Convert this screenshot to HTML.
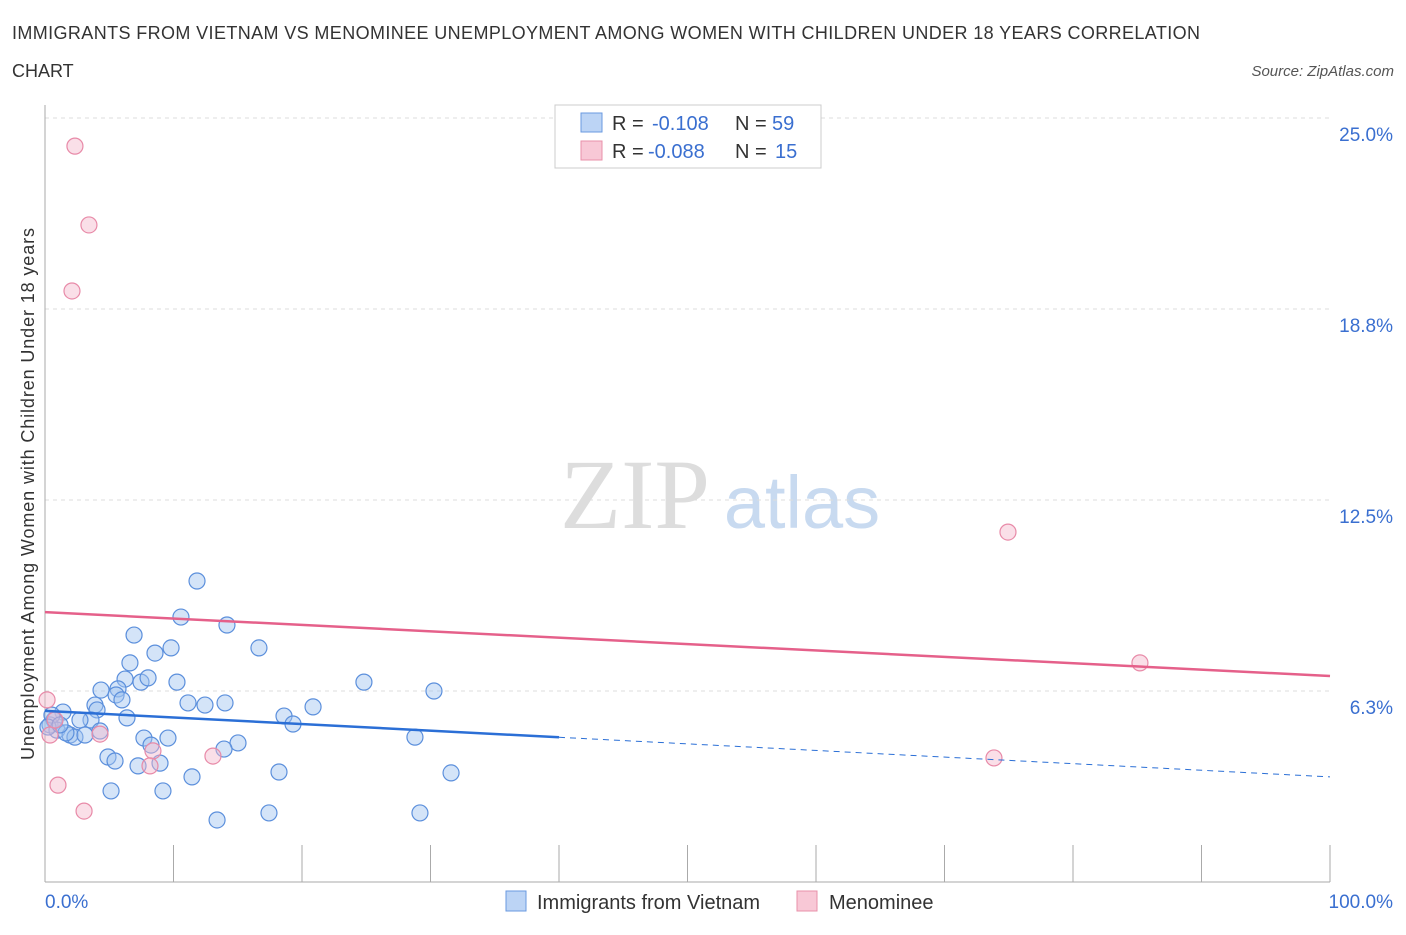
<!DOCTYPE html>
<html><head><meta charset="utf-8"><style>
body{margin:0;background:#fff;font-family:"Liberation Sans",sans-serif;}
</style></head><body>
<svg width="1406" height="930" xmlns="http://www.w3.org/2000/svg" id="svg">
<text x="12" y="39" font-size="18" textLength="1188" fill="#333">IMMIGRANTS FROM VIETNAM VS MENOMINEE UNEMPLOYMENT AMONG WOMEN WITH CHILDREN UNDER 18 YEARS CORRELATION</text>
<text x="12" y="77" font-size="18" fill="#333">CHART</text>
<text x="1394" y="76" font-size="15" fill="#555" font-style="italic" text-anchor="end">Source: ZipAtlas.com</text>
<text x="635" y="528" font-size="100" fill="#ddd" font-family="Liberation Serif,serif" text-anchor="middle">ZIP</text>
<text x="802" y="528" font-size="74" fill="#c8daf0" text-anchor="middle">atlas</text>
<g id="grid"></g>
<line x1="45" y1="105" x2="45" y2="882" stroke="#aaa"/>
<line x1="45" y1="882" x2="1330" y2="882" stroke="#aaa"/>
<g id="marks"></g>
<text transform="translate(34,494) rotate(-90)" font-size="18" textLength="532" fill="#333" text-anchor="middle">Unemployment Among Women with Children Under 18 years</text>
<text x="45" y="908" font-size="19" fill="#3a6fd0">0.0%</text>
<text x="1393" y="908" font-size="19" fill="#3a6fd0" text-anchor="end">100.0%</text>
<g>
<rect x="555" y="105" width="266" height="63" fill="#fff" stroke="#ccc"/>
<rect x="581" y="113" width="21" height="19" fill="#bcd4f5" stroke="#6a9ae0"/>
<text x="612" y="130" font-size="20" fill="#333">R =</text>
<text x="652" y="130" font-size="20" fill="#3a6fd0">-0.108</text>
<text x="735" y="130" font-size="20" fill="#333">N =</text>
<text x="772" y="130" font-size="20" fill="#3a6fd0">59</text>
<rect x="581" y="141" width="21" height="19" fill="#f8c8d6" stroke="#e890aa"/>
<text x="612" y="158" font-size="20" fill="#333">R =</text>
<text x="648" y="158" font-size="20" fill="#3a6fd0">-0.088</text>
<text x="735" y="158" font-size="20" fill="#333">N =</text>
<text x="775" y="158" font-size="20" fill="#3a6fd0">15</text>
</g>
<g>
<rect x="506" y="891" width="20" height="20" fill="#bcd4f5" stroke="#6a9ae0"/>
<text x="537" y="909" font-size="20" fill="#333">Immigrants from Vietnam</text>
<rect x="797" y="891" width="20" height="20" fill="#f8c8d6" stroke="#e890aa"/>
<text x="829" y="909" font-size="20" fill="#333">Menominee</text>
</g>
</svg>
<script>
const yTicks=[6.25,12.5,18.75,25];
const yTickLabels=["6.3%","12.5%","18.8%","25.0%"];
const blueX=[11.83,10.58,14.16,6.93,9.81,8.56,6.61,16.65,7.47,8.02,10.27,6.23,5.68,4.36,5.53,24.82,30.27,11.13,12.45,14.01,3.89,5.99,4.05,6.38,20.86,18.6,19.3,3.58,2.72,1.40,0.70,0.39,0.93,1.95,2.33,3.11,1.63,0.54,7.70,9.57,8.25,15.02,13.93,28.79,4.90,5.45,7.24,8.95,18.21,31.6,11.44,5.14,9.18,13.39,17.43,29.18,0.23,1.17,4.28];
const blueY=[9.85,8.67,8.41,8.08,7.66,7.49,7.17,7.66,6.54,6.68,6.54,6.64,6.32,6.28,6.12,6.54,6.25,5.86,5.79,5.86,5.79,5.96,5.63,5.37,5.73,5.43,5.17,5.30,5.30,5.56,5.30,5.14,4.97,4.81,4.74,4.81,4.88,5.46,4.71,4.71,4.48,4.55,4.35,4.74,4.09,3.96,3.80,3.89,3.60,3.57,3.44,2.98,2.98,2.03,2.26,2.26,5.07,5.14,4.94];
const pinkX=[2.33,3.42,2.10,74.94,85.21,0.16,0.39,4.28,13.07,8.40,8.17,73.85,1.01,3.04,0.78];
const pinkY=[24.08,21.5,19.34,11.45,7.17,5.96,4.81,4.84,4.12,4.29,3.80,4.06,3.17,2.32,5.30];
const blueTrend=[5.6,3.44];
const pinkTrend=[8.83,6.74];
const xs=v=>45+v*12.85, ys=v=>882-v*30.56;
const NS="http://www.w3.org/2000/svg";
const grid=document.getElementById('grid'), marks=document.getElementById('marks');
function mk(tag,at,p){const e=document.createElementNS(NS,tag);for(const k in at)e.setAttribute(k,at[k]);p.appendChild(e);return e;}
yTicks.forEach((t,i)=>{
 const l=mk('line',{x1:45,x2:1330,y1:ys(t),y2:ys(t),stroke:'#ddd','stroke-dasharray':'4,4'},grid);
 
 
 const tx=mk('text',{x:1393,y:ys(t)+23,'font-size':19,fill:'#3a6fd0','text-anchor':'end'},grid);
 tx.textContent=yTickLabels[i];
 
 
});
for(let i=0;i<=10;i++){
 const l=mk('line',{x1:xs(i*10),x2:xs(i*10),y1:845,y2:882,stroke:'#aaa'},grid);
 
 
}
blueX.forEach((x,i)=>{
 const c=mk('circle',{cx:xs(x),cy:ys(blueY[i]),r:8,fill:'rgba(160,195,240,0.45)',stroke:'#5b8fdc','stroke-width':1.2},marks);
 
 
});
pinkX.forEach((x,i)=>{
 const c=mk('circle',{cx:xs(x),cy:ys(pinkY[i]),r:8,fill:'rgba(245,185,205,0.45)',stroke:'#e88aa8','stroke-width':1.2},marks);
 
 
});
const bAt=v=>blueTrend[0]+(blueTrend[1]-blueTrend[0])*v/100;
let l1=mk('line',{x1:xs(0),y1:ys(bAt(0)),x2:xs(40),y2:ys(bAt(40)),stroke:'#2b6fd6','stroke-width':2.5},marks);


let l2=mk('line',{x1:xs(40),y1:ys(bAt(40)),x2:xs(100),y2:ys(bAt(100)),stroke:'#2b6fd6','stroke-width':1,'stroke-dasharray':'6,5'},marks);


let l3=mk('line',{x1:xs(0),y1:ys(pinkTrend[0]),x2:xs(100),y2:ys(pinkTrend[1]),stroke:'#e5608a','stroke-width':2.5},marks);


</script>
</body></html>
